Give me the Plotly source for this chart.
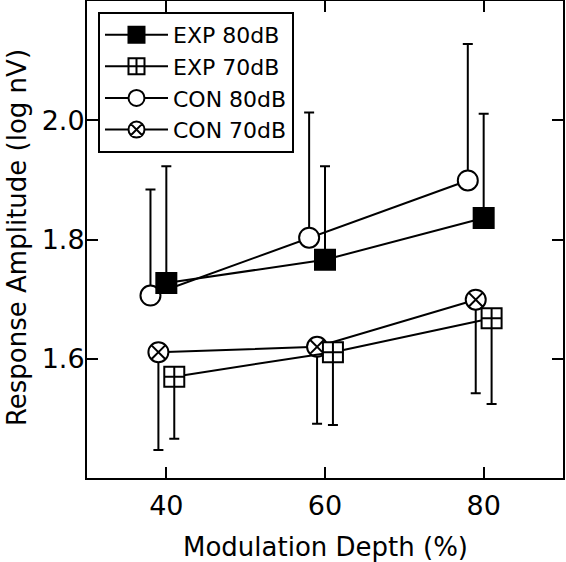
import plotly.graph_objects as go

# ---- data ----
depth = [40, 60, 80]                      # modulation depth (%)
offsets = {"EXP 80dB": 0, "EXP 70dB": 1, "CON 80dB": -2, "CON 70dB": -1}

exp80_mean = [1.727, 1.766, 1.836]
exp80_err_up = [0.196, 0.157, 0.175]

exp70_mean = [1.570, 1.611, 1.668]
exp70_err_down = [0.104, 0.122, 0.144]

con80_mean = [1.706, 1.803, 1.899]
con80_err_up = [0.178, 0.210, 0.229]

con70_mean = [1.611, 1.620, 1.699]
con70_err_down = [0.164, 0.129, 0.157]

x_ticks = [40, 60, 80]
x_ticktext = ["40", "60", "80"]
y_ticks = [1.6, 1.8, 2.0]
y_ticktext = ["1.6", "1.8", "2.0"]
x_title = "Modulation Depth (%)"
y_title = "Response Amplitude (log nV)"

FONT = "DejaVu Sans"

def xs(name):
    return [d + offsets[name] for d in depth]

fig = go.Figure()

def add(name, mean, up, down, symbol, fill, rank):
    err = dict(type="data", symmetric=False,
               array=up if up is not None else [0] * len(mean),
               arrayminus=down if down is not None else [0] * len(mean),
               color="black", thickness=2, width=5)
    fig.add_trace(go.Scatter(
        x=xs(name), y=mean, name=name, mode="lines+markers",
        line=dict(color="black", width=2),
        marker=dict(symbol=symbol, size=20, color=fill,
                    line=dict(color="black", width=2)),
        error_y=err, legendrank=rank,
    ))

add("CON 80dB", con80_mean, con80_err_up, None, "circle", "white", 3)
add("CON 70dB", con70_mean, None, con70_err_down, "circle-x", "white", 4)
add("EXP 80dB", exp80_mean, exp80_err_up, None, "square", "black", 1)
add("EXP 70dB", exp70_mean, None, exp70_err_down, "square-cross", "white", 2)

axis_common = dict(showline=True, linecolor="black", linewidth=2, mirror="ticks",
                   ticks="inside", ticklen=11, tickwidth=2, tickcolor="black",
                   showgrid=False, zeroline=False, automargin=False,
                   tickfont=dict(family=FONT, size=27, color="black"))

fig.update_xaxes(range=[30, 90], tickvals=x_ticks, ticktext=x_ticktext,
                 ticklabelstandoff=3, **axis_common)
fig.update_yaxes(range=[1.4, 2.2], tickvals=y_ticks, ticktext=y_ticktext,
                 ticklabelstandoff=-5, **axis_common)

fig.add_annotation(text=x_title, xref="paper", yref="paper", x=0.5, y=0,
                   xanchor="center", yanchor="middle", yshift=-69, showarrow=False,
                   font=dict(family=FONT, size=26, color="black"))
fig.add_annotation(text=y_title, xref="paper", yref="paper", x=0, y=0.503,
                   xanchor="center", yanchor="middle", xshift=-70, textangle=-90,
                   showarrow=False, font=dict(family=FONT, size=26, color="black"))

fig.update_layout(
    width=566, height=562, autosize=False,
    margin=dict(l=87, r=3, t=1, b=84, autoexpand=False),
    paper_bgcolor="white", plot_bgcolor="white",
    showlegend=True,
    legend=dict(x=0.0231, y=0.977, xanchor="left", yanchor="top",
                bgcolor="white", bordercolor="black", borderwidth=2,
                font=dict(family=FONT, size=22, color="black"),
                itemwidth=63, tracegroupgap=0),
)

fig.write_html("out.html",
               config={"displayModeBar": False},
               post_script="document.body.style.margin='0px';"
                           "document.documentElement.style.overflow='hidden';"
                           "document.body.style.overflow='hidden';")
